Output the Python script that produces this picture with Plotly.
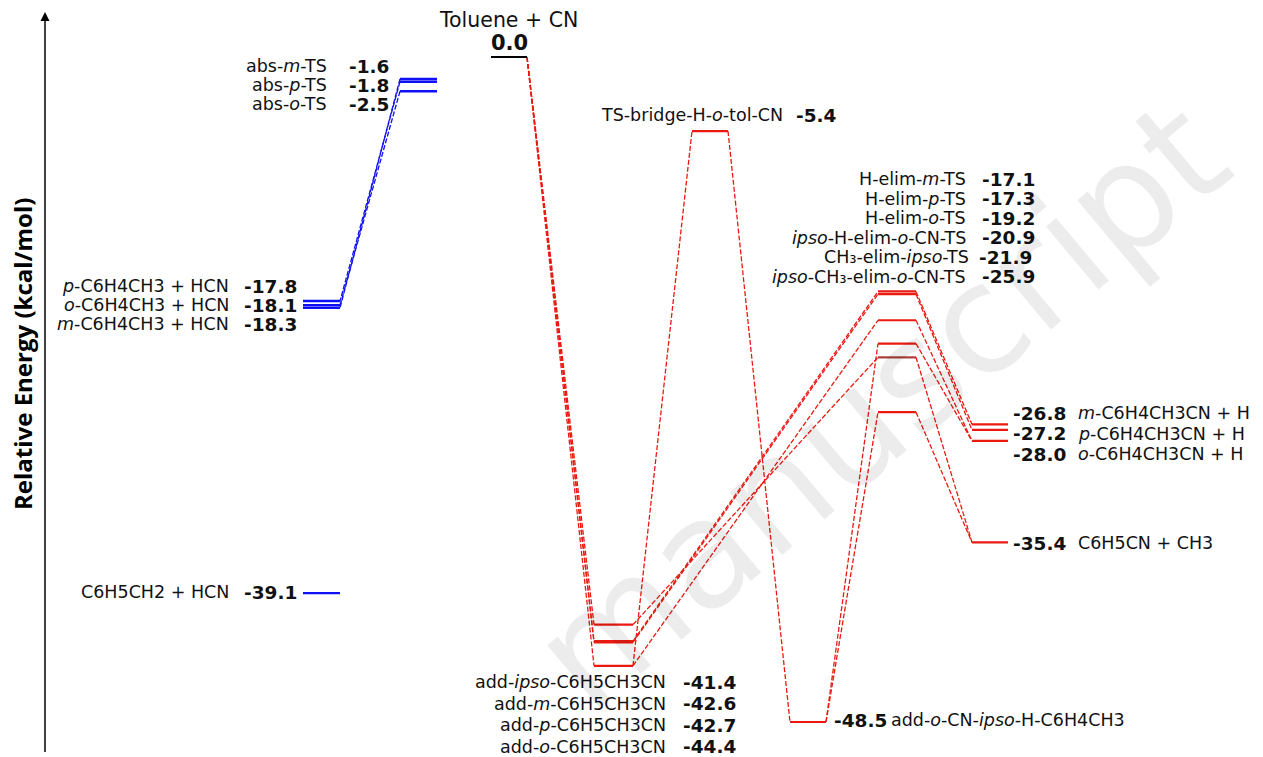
import plotly.graph_objects as go

# ---------------- energies (kcal/mol) and labels ----------------
reactant_label = "Toluene + CN"
reactant_energy = 0.0

abs_ts_labels = ["abs-<i>m</i>-TS", "abs-<i>p</i>-TS", "abs-<i>o</i>-TS"]
abs_ts_energy = [-1.6, -1.8, -2.5]

hcn_labels = ["<i>p</i>-C6H4CH3 + HCN", "<i>o</i>-C6H4CH3 + HCN", "<i>m</i>-C6H4CH3 + HCN"]
hcn_energy = [-17.8, -18.1, -18.3]

benzyl_label = "C6H5CH2 + HCN"
benzyl_energy = -39.1

add_labels = ["add-<i>ipso</i>-C6H5CH3CN", "add-<i>m</i>-C6H5CH3CN",
              "add-<i>p</i>-C6H5CH3CN", "add-<i>o</i>-C6H5CH3CN"]
add_energy = [-41.4, -42.6, -42.7, -44.4]

bridge_label = "TS-bridge-H-<i>o</i>-tol-CN"
bridge_energy = -5.4

ipso_h_label = "add-<i>o</i>-CN-<i>ipso</i>-H-C6H4CH3"
ipso_h_energy = -48.5

elim_labels = ["H-elim-<i>m</i>-TS", "H-elim-<i>p</i>-TS", "H-elim-<i>o</i>-TS",
               "<i>ipso</i>-H-elim-<i>o</i>-CN-TS", "CH\u2083-elim-<i>ipso</i>-TS",
               "<i>ipso</i>-CH\u2083-elim-<i>o</i>-CN-TS"]
elim_energy = [-17.1, -17.3, -19.2, -20.9, -21.9, -25.9]

prod_labels = ["<i>m</i>-C6H4CH3CN + H", "<i>p</i>-C6H4CH3CN + H",
               "<i>o</i>-C6H4CH3CN + H", "C6H5CN + CH3"]
prod_energy = [-26.8, -27.2, -28.0, -35.4]

axis_title = "Relative Energy (kcal/mol)"
watermark = "manuscript"

# ---------------- layout helpers ----------------
W, H = 1263, 757
Y0_PX = 57.0                 # pixel row of 0 kcal/mol
PX_PER_KCAL = 665.0 / 48.5   # vertical scale
E_TOP = Y0_PX / PX_PER_KCAL
E_BOT = -(H - Y0_PX) / PX_PER_KCAL


def py2e(py):
    return -(py - Y0_PX) / PX_PER_KCAL


# horizontal slots of each column (x0, x1)
COL = {
    "hcn": (303, 340), "abs": (400, 437), "react": (491, 527), "add": (594, 633),
    "bridge": (692, 728), "ipsoH": (790, 826), "elim": (878, 916), "prod": (972, 1008),
}

BLUE = "#1010f4"
RED = "#ea1a10"
BROWN = "#a8443a"

# level registry: key -> (column, energy)
levels = {"react": ("react", reactant_energy), "benzyl": ("hcn", benzyl_energy),
          "bridge": ("bridge", bridge_energy), "ipsoH": ("ipsoH", ipso_h_energy)}
for i, e in enumerate(abs_ts_energy):
    levels[f"abs{i}"] = ("abs", e)
for i, e in enumerate(hcn_energy):
    levels[f"hcn{i}"] = ("hcn", e)
for i, e in enumerate(add_energy):
    levels[f"add{i}"] = ("add", e)
for i, e in enumerate(elim_energy):
    levels[f"elim{i}"] = ("elim", e)
for i, e in enumerate(prod_energy):
    levels[f"prod{i}"] = ("prod", e)

blue_links = [("abs0", "hcn2"), ("abs1", "hcn0"), ("abs2", "hcn1")]
red_links = [("react", "add0"), ("react", "add1"), ("react", "add2"), ("react", "add3"),
             ("add1", "elim0"), ("add2", "elim1"), ("add3", "elim2"), ("add0", "elim4"),
             ("add3", "bridge"), ("bridge", "ipsoH"), ("ipsoH", "elim3"), ("ipsoH", "elim5"),
             ("elim0", "prod0"), ("elim1", "prod1"), ("elim2", "prod2"), ("elim3", "prod2"),
             ("elim4", "prod3"), ("elim5", "prod3")]


def link_xy(links):
    xs, ys = [], []
    for a, b in links:
        ca, ea = levels[a]
        cb, eb = levels[b]
        if COL[cb][0] > COL[ca][0]:
            xs += [COL[ca][1], COL[cb][0], None]
        else:
            xs += [COL[ca][0], COL[cb][1], None]
        ys += [ea, eb, None]
    return xs, ys


def level_xy(keys):
    xs, ys = [], []
    for k in keys:
        c, e = levels[k]
        xs += [COL[c][0], COL[c][1], None]
        ys += [e, e, None]
    return xs, ys


fig = go.Figure()

# dashed connectors
bx, by = link_xy(blue_links)
fig.add_trace(go.Scatter(x=bx, y=by, mode="lines",
                         line=dict(color=BLUE, width=1.3, dash="5px,2px")))
rx, ry = link_xy(red_links)
fig.add_trace(go.Scatter(x=rx, y=ry, mode="lines",
                         line=dict(color=RED, width=1.3, dash="5px,2px")))

# energy levels
blue_keys = [f"abs{i}" for i in range(3)] + [f"hcn{i}" for i in range(3)] + ["benzyl"]
red_keys = ([f"add{i}" for i in range(4)] + ["bridge", "ipsoH"] +
            [f"elim{i}" for i in range(6) if i != 4] + [f"prod{i}" for i in range(4)])
x, y = level_xy(blue_keys)
fig.add_trace(go.Scatter(x=x, y=y, mode="lines", line=dict(color=BLUE, width=2.4)))
x, y = level_xy(red_keys)
fig.add_trace(go.Scatter(x=x, y=y, mode="lines", line=dict(color=RED, width=2.2)))
x, y = level_xy(["elim4"])
fig.add_trace(go.Scatter(x=x, y=y, mode="lines", line=dict(color=BROWN, width=2.2)))
x, y = level_xy(["react"])
fig.add_trace(go.Scatter(x=x, y=y, mode="lines", line=dict(color="black", width=1.8)))

# energy axis: vertical line with an arrow tip
fig.add_shape(type="line", x0=45, x1=45, y0=py2e(752), y1=py2e(20), xref="x", yref="y",
              line=dict(color="black", width=1.5))
fig.add_trace(go.Scatter(x=[45], y=[py2e(12)], mode="markers",
                         marker=dict(symbol="arrow-up", size=9, color="black",
                                     line=dict(width=0))))

# ---------------- text ----------------
FONT = "DejaVu Sans"
FS = 17.5      # species names
FN = 18.5      # bold energies
anns = []


def label(text, x, ypx, anchor, size=FS):
    anns.append(dict(text=text, x=x, y=py2e(ypx), xref="x", yref="y", xanchor=anchor,
                     yanchor="middle", showarrow=False, borderpad=0,
                     font=dict(family=FONT, size=size, color="#111111")))


def num(e):
    return f"<b>{e:.1f}</b>"


# reactant
label(reactant_label, 508, 20, "center", size=20.5)
label(num(reactant_energy), 509, 43, "center", size=21)

# abstraction branch
for t, e, r in zip(abs_ts_labels, abs_ts_energy, [66, 85, 104]):
    label(t, 328, r, "right")
    label(num(e), 348, r, "left", FN)
for t, e, r in zip(hcn_labels, hcn_energy, [286, 305, 324]):
    label(t, 230, r, "right")
    label(num(e), 243, r, "left", FN)
label(benzyl_label, 230, 592, "right")
label(num(benzyl_energy), 243, 592, "left", FN)

# addition branch
for t, e, r in zip(add_labels, add_energy, [682, 703.5, 725, 746.5]):
    label(t, 667, r, "right")
    label(num(e), 682, r, "left", FN)
label(bridge_label, 784, 115, "right")
label(num(bridge_energy), 795, 115, "left", FN)
label(num(ipso_h_energy), 833, 720, "left", FN)
label(ipso_h_label, 890, 720, "left")

for i, (t, e, r) in enumerate(zip(elim_labels, elim_energy,
                                  [179, 198.5, 218, 237.5, 257, 276.5])):
    shift = 3 if i == 4 else 0
    label(t, 967 + shift, r, "right")
    label(num(e), 981 - shift, r, "left", FN)

for t, e, r in zip(prod_labels, prod_energy, [413, 433.5, 454, 543]):
    label(num(e), 1012, r, "left", FN)
    label(t, 1077, r, "left")

# axis title
anns.append(dict(text=f"<b>{axis_title}</b>", x=22, y=py2e(354), xref="x",
                 yref="y", textangle=-90, showarrow=False, xanchor="center", yanchor="middle",
                 font=dict(family="Open Sans", size=24, color="black")))

# faint background watermark
anns.append(dict(text=watermark, x=880, y=py2e(405), xref="x", yref="y", textangle=-40,
                 showarrow=False, xanchor="center", yanchor="middle",
                 font=dict(family=FONT, size=150, color="rgba(0,0,0,0.075)")))

fig.update_layout(
    width=W, height=H, margin=dict(l=0, r=0, t=0, b=0),
    paper_bgcolor="white", plot_bgcolor="white", showlegend=False,
    xaxis=dict(range=[0, W], visible=False, fixedrange=True),
    yaxis=dict(range=[E_BOT, E_TOP], visible=False, fixedrange=True),
    annotations=anns,
)

fig.write_html("out.html")
